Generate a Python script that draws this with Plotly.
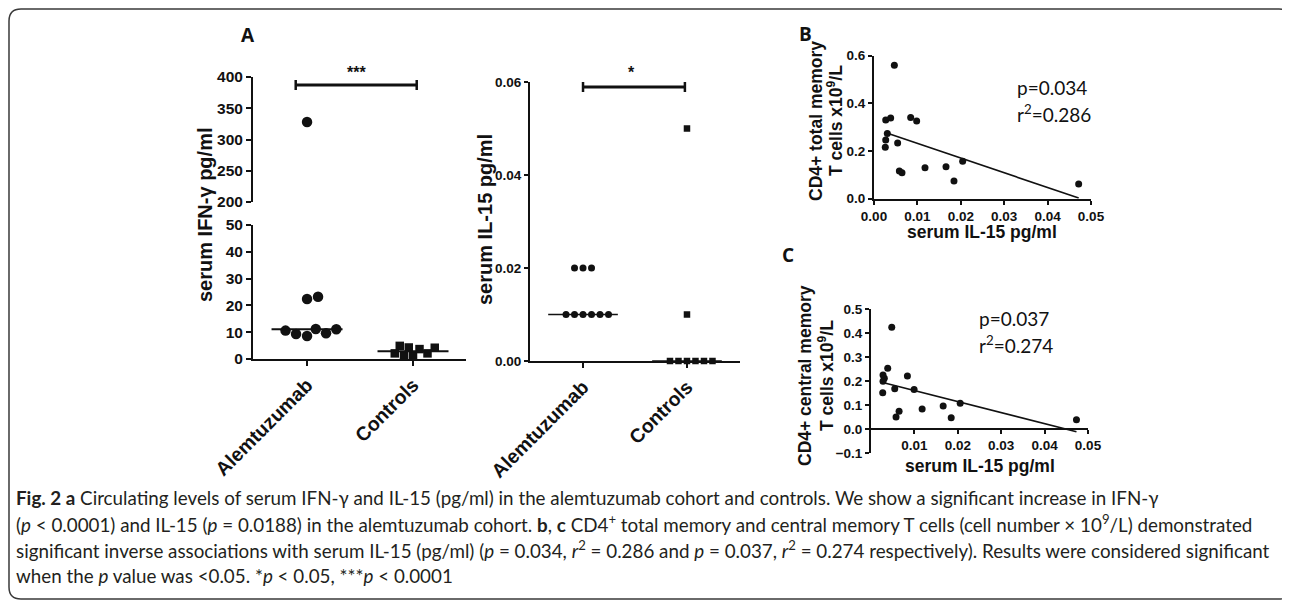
import numpy as np
import plotly.graph_objects as go

# ---------------- data ----------------
categories = ["Alemtuzumab", "Controls"]

ifng_alem = [328.0, 8.6, 11.2, 9.3, 9.6, 10.6, 11.1, 22.4, 23.2]
ifng_ctrl = [1.3, 3.7, 4.3, 1.3, 2.1, 4.9, 2.1, 4.2]

il15_alem = [0.02, 0.02, 0.02, 0.01, 0.01, 0.01, 0.01, 0.01, 0.01]
il15_ctrl = [0.05, 0.01, 0.0, 0.0, 0.0, 0.0, 0.0, 0.0]

b_il15 = [0.00469, 0.0027, 0.00384, 0.00845, 0.00983, 0.00307, 0.0027, 0.00545,
          0.0026, 0.00584, 0.00645, 0.01175, 0.01659, 0.01843, 0.02043, 0.04716]
b_total_mem = [0.560, 0.330, 0.339, 0.341, 0.326, 0.274, 0.246, 0.234,
               0.216, 0.116, 0.109, 0.130, 0.134, 0.074, 0.157, 0.062]

c_il15 = [0.00478, 0.00385, 0.00277, 0.00307, 0.00277, 0.00839, 0.00547, 0.00993,
          0.0027, 0.00647, 0.00577, 0.01178, 0.01663, 0.01848, 0.02055, 0.04734]
c_central_mem = [0.424, 0.253, 0.225, 0.211, 0.199, 0.221, 0.168, 0.165,
                 0.151, 0.074, 0.050, 0.083, 0.096, 0.047, 0.107, 0.039]

b_stats = ["p=0.034", "r<sup>2</sup>=0.286"]
c_stats = ["p=0.037", "r<sup>2</sup>=0.274"]

# ---------------- geometry helpers ----------------
OFF = 8                      # page body margin
W, H = 1290 - OFF, 601 - OFF
def fx(px): return (px - OFF) / W
def fy(py): return 1 - (py - OFF) / H

FONT = "Arial, Liberation Sans, sans-serif"
BLACK = "#111111"

# panel A1 geometry (page pixels)
A1_X0, A1_X1 = 253, 466
A1_LOW = (359, 225, 0, 50)      # bottom px, top px, low value, high value
A1_UP = (202, 77, 200, 400)
A1_XR = [-0.51, 1.5]
# panel A2 geometry
A2_X0, A2_X1 = 530, 740
A2_Y = (361, 82, 0, 0.06)
A2_XR = [-0.51, 1.51]

def px_per_unit(seg):
    b, t, lo, hi = seg
    return (b - t) / (hi - lo)

def swarm(values, ppu, diam):
    """simple beeswarm: returns pixel offsets, placing points in order"""
    placed = []
    offs = []
    for v in values:
        y = v * ppu
        k = 0
        chosen = None
        while chosen is None:
            cands = [0.0] if k == 0 else [k * 0.25, -k * 0.25]
            for c in cands:
                ok = all((c - ox) ** 2 + (y - oy) ** 2 >= diam ** 2 - 1e-6 for ox, oy in placed)
                if ok:
                    chosen = c
                    break
            k += 1
        placed.append((chosen, y))
        offs.append(chosen)
    return np.array(offs)

fig = go.Figure()

# ---------- Panel A1: IFN-gamma (broken axis) ----------
a1_ppc = (A1_X1 - A1_X0) / (A1_XR[1] - A1_XR[0])
alem_arr = np.array(ifng_alem)
up_mask = alem_arr >= 200
alem_low = alem_arr[~up_mask]
alem_up = alem_arr[up_mask]
off_low = swarm(alem_low, px_per_unit(A1_LOW), 11) / a1_ppc
off_up = swarm(alem_up, px_per_unit(A1_UP), 11) / a1_ppc
off_ctrl = swarm(np.array(ifng_ctrl), px_per_unit(A1_LOW), 9) / a1_ppc

fig.add_trace(go.Scatter(x=0 + off_low, y=alem_low, mode="markers", xaxis="x", yaxis="y",
                         marker=dict(symbol="circle", size=10.5, color=BLACK), showlegend=False))
fig.add_trace(go.Scatter(x=0 + off_up, y=alem_up, mode="markers", xaxis="x", yaxis="y2",
                         marker=dict(symbol="circle", size=10.5, color=BLACK), showlegend=False))
fig.add_trace(go.Scatter(x=1 + off_ctrl, y=ifng_ctrl, mode="markers", xaxis="x", yaxis="y",
                         marker=dict(symbol="square", size=8.5, color=BLACK), showlegend=False))
HW = 0.335
for ci, vals in enumerate([ifng_alem, ifng_ctrl]):
    med = float(np.median(vals))
    fig.add_trace(go.Scatter(x=[ci - HW, ci + HW], y=[med, med], mode="lines", xaxis="x", yaxis="y",
                             line=dict(color=BLACK, width=2), showlegend=False))

# ---------- Panel A2: IL-15 ----------
a2_ppc = (A2_X1 - A2_X0) / (A2_XR[1] - A2_XR[0])
off_a = swarm(np.array(il15_alem), px_per_unit(A2_Y), 8.4) / a2_ppc
off_c = swarm(np.array(il15_ctrl), px_per_unit(A2_Y), 8.3) / a2_ppc
fig.add_trace(go.Scatter(x=0 + off_a, y=il15_alem, mode="markers", xaxis="x2", yaxis="y3",
                         marker=dict(symbol="circle", size=7, color=BLACK), showlegend=False,
                         cliponaxis=False))
fig.add_trace(go.Scatter(x=1 + off_c, y=il15_ctrl, mode="markers", xaxis="x2", yaxis="y3",
                         marker=dict(symbol="square", size=6.5, color=BLACK), showlegend=False,
                         cliponaxis=False))
for ci, vals in enumerate([il15_alem, il15_ctrl]):
    med = float(np.median(vals))
    fig.add_trace(go.Scatter(x=[ci - HW, ci + HW], y=[med, med], mode="lines", xaxis="x2", yaxis="y3",
                             line=dict(color=BLACK, width=1.6), showlegend=False, cliponaxis=False))

# ---------- Panel B & C: scatter with regression ----------
for xs, ys, xa, ya in [(b_il15, b_total_mem, "x3", "y4"), (c_il15, c_central_mem, "x4", "y5")]:
    xs = np.array(xs); ys = np.array(ys)
    fig.add_trace(go.Scatter(x=xs, y=ys, mode="markers", xaxis=xa, yaxis=ya,
                             marker=dict(symbol="circle", size=7, color=BLACK), showlegend=False,
                             cliponaxis=False))
    slope, icpt = np.polyfit(xs, ys, 1)
    lx = np.array([xs.min(), xs.max()])
    fig.add_trace(go.Scatter(x=lx, y=slope * lx + icpt, mode="lines", xaxis=xa, yaxis=ya,
                             line=dict(color=BLACK, width=1.6), showlegend=False, cliponaxis=False))

# ---------------- axes ----------------
def ax_common(size, tl=5):
    return dict(showline=True, linecolor=BLACK, linewidth=2, ticks="outside", ticklen=tl,
                tickwidth=2, tickcolor=BLACK, showgrid=False, zeroline=False, automargin=False,
                tickfont=dict(family=FONT, size=size, color=BLACK, weight="bold"))

layout = dict(
    template="none",
    width=W, height=H, margin=dict(l=0, r=0, t=0, b=0, pad=0, autoexpand=False),
    paper_bgcolor="white", plot_bgcolor="rgba(0,0,0,0)", showlegend=False,
    xaxis=dict(domain=[fx(A1_X0), fx(A1_X1)], range=A1_XR, anchor="y", tickvals=[0, 1],
               ticktext=categories, tickangle=-45, **ax_common(19.5)),
    yaxis=dict(domain=[fy(A1_LOW[0]), fy(A1_LOW[1])], range=[A1_LOW[2], A1_LOW[3]], anchor="x",
               dtick=10, **ax_common(15.5)),
    yaxis2=dict(domain=[fy(A1_UP[0]), fy(A1_UP[1])], range=[A1_UP[2], A1_UP[3]], anchor="x",
                dtick=50, **ax_common(15.5)),
    xaxis2=dict(domain=[fx(A2_X0), fx(A2_X1)], range=A2_XR, anchor="y3", tickvals=[0, 1],
                ticktext=categories, tickangle=-45, **ax_common(19.5)),
    yaxis3=dict(domain=[fy(A2_Y[0]), fy(A2_Y[1])], range=[A2_Y[2], A2_Y[3]], anchor="x2",
                dtick=0.02, tickformat=".2f", **ax_common(13.5, 4)),
    xaxis3=dict(domain=[fx(874), fx(1091)], range=[0, 0.05], anchor="y4", dtick=0.01,
                tickformat=".2f", **ax_common(13.5, 4)),
    yaxis4=dict(domain=[fy(198.7), fy(55.7)], range=[0, 0.6], anchor="x3", dtick=0.2,
                tickformat=".1f", **ax_common(13.5, 4)),
    xaxis4=dict(domain=[fx(871), fx(1088)], range=[0, 0.05], anchor="free", position=fy(429),
                tickvals=[0.01, 0.02, 0.03, 0.04, 0.05], tickformat=".2f", **ax_common(13.5, 4)),
    yaxis5=dict(domain=[fy(453), fy(309)], range=[-0.1, 0.5], anchor="x4", dtick=0.1,
                tickformat=".1f", **ax_common(13.5, 4)),
)
fig.update_layout(**layout)

# ---------------- annotations ----------------
ann = []
def text(x, y, t, size, bold=False, angle=0, xanchor="center", family=FONT, color=BLACK):
    ann.append(dict(x=fx(x), y=fy(y), xref="paper", yref="paper", text=t, showarrow=False,
                    textangle=angle, xanchor=xanchor, yanchor="middle",
                    font=dict(family=family, size=size, color=color, weight="bold" if bold else "normal")))

LBL = "Open Sans, Lato, sans-serif"
text(248, 35, "A", 19, bold=True, family=LBL)
text(806, 34, "B", 19, bold=True, family=LBL)
text(788, 255, "C", 19, bold=True, family=LBL)

text(205, 215, "serum IFN-γ pg/ml", 20, bold=True, angle=-90)
text(485, 220, "serum IL-15 pg/ml", 20, bold=True, angle=-90)

text(816, 121, "CD4+ total memory", 17.5, bold=True, angle=-90)
text(835, 121, "T cells x10<sup>9</sup>/L", 17.5, bold=True, angle=-90)
text(982, 232, "serum IL-15 pg/ml", 17.5, bold=True)

text(805, 376, "CD4+ central memory", 17.5, bold=True, angle=-90)
text(826, 376, "T cells x10<sup>9</sup>/L", 17.5, bold=True, angle=-90)
text(980, 466, "serum IL-15 pg/ml", 17.5, bold=True)

STAT = "Lato, Open Sans, sans-serif"
text(1015, 88, b_stats[0], 19, xanchor="left", family=STAT)
text(1015, 114, b_stats[1], 19, xanchor="left", family=STAT)
text(977, 318, c_stats[0], 19, xanchor="left", family=STAT)
text(977, 344, c_stats[1], 19, xanchor="left", family=STAT)

# significance stars
ann.append(dict(x=0.47, xref="x", y=fy(72), yref="paper", text="***", showarrow=False,
                yanchor="middle", font=dict(family=FONT, size=16, color=BLACK, weight="bold")))
ann.append(dict(x=0.47, xref="x2", y=fy(72), yref="paper", text="*", showarrow=False,
                yanchor="middle", font=dict(family=FONT, size=16, color=BLACK, weight="bold")))

# caption
CAP = "Lato, sans-serif"
CAPC = "#231f20"
cap_lines = [
    "<b>Fig. 2 a</b> Circulating levels of serum IFN-γ and IL-15 (pg/ml) in the alemtuzumab cohort and controls. We show a significant increase in IFN-γ",
    "(<i>p</i> &lt; 0.0001) and IL-15 (<i>p</i> = 0.0188) in the alemtuzumab cohort. <b>b</b>, <b>c</b> CD4<sup>+</sup> total memory and central memory T cells (cell number × 10<sup>9</sup>/L) demonstrated",
    "significant inverse associations with serum IL-15 (pg/ml) (<i>p</i> = 0.034, <i>r</i><sup>2</sup> = 0.286 and <i>p</i> = 0.037, <i>r</i><sup>2</sup> = 0.274 respectively). Results were considered significant",
    "when the <i>p</i> value was &lt;0.05. *<i>p</i> &lt; 0.05, ***<i>p</i> &lt; 0.0001",
]
for i, (t, yy) in enumerate(zip(cap_lines, [497, 523, 549, 575.5])):
    text(14, yy, t, 18.8, xanchor="left", family=CAP, color=CAPC)

fig.update_layout(annotations=ann)

# ---------------- shapes ----------------
shapes = []
def bar(xref, xa, xb, ypx):
    shapes.append(dict(type="line", xref=xref, yref="paper", x0=xa, x1=xb, y0=fy(ypx), y1=fy(ypx),
                       line=dict(color=BLACK, width=3)))
    for xx in (xa, xb):
        shapes.append(dict(type="line", xref=xref, yref="paper", x0=xx, x1=xx, y0=fy(ypx - 5),
                           y1=fy(ypx + 5), line=dict(color=BLACK, width=2.5)))
bar("x", -0.107, 1.035, 85)
bar("x2", 0.0, 0.98, 87)

# rounded border
x0, y0, x1, y1, r = 9, 9, 1291, 599, 12
pts = lambda a, b: f"{fx(a):.5f},{fy(b):.5f}"
path = (f"M {pts(x0 + r, y0)} L {pts(x1 - r, y0)} Q {pts(x1, y0)} {pts(x1, y0 + r)} "
        f"L {pts(x1, y1 - r)} Q {pts(x1, y1)} {pts(x1 - r, y1)} L {pts(x0 + r, y1)} "
        f"Q {pts(x0, y1)} {pts(x0, y1 - r)} L {pts(x0, y0 + r)} Q {pts(x0, y0)} {pts(x0 + r, y0)} Z")
shapes.append(dict(type="path", xref="paper", yref="paper", path=path,
                   line=dict(color="#3a3a3a", width=1.5)))
fig.update_layout(shapes=shapes)

fig.write_html("out.html")
